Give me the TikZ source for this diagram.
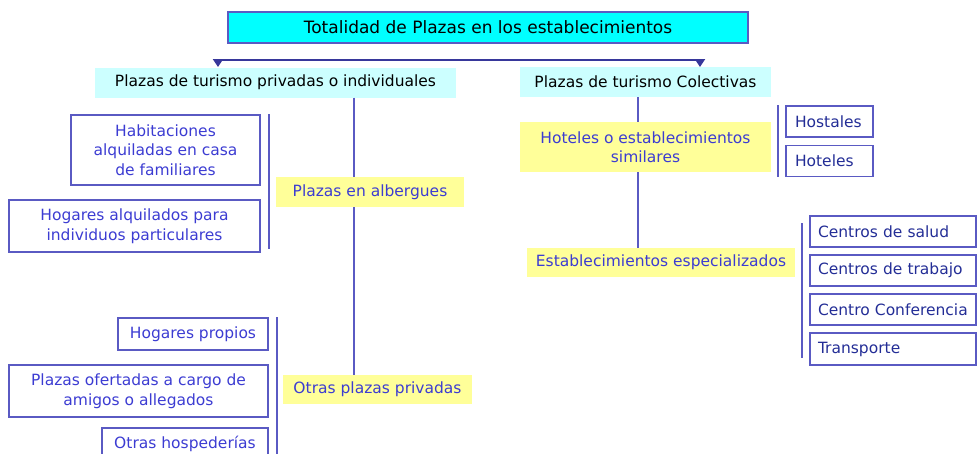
\documentclass[tikz,border=0pt]{standalone}
\usepackage{fontspec}
\setmainfont{DejaVu Sans}
\usetikzlibrary{arrows.meta}
\definecolor{lineblue}{RGB}{90,90,195}
\definecolor{darkline}{RGB}{55,55,155}
\definecolor{textblue}{RGB}{60,60,210}
\definecolor{textnavy}{RGB}{35,45,150}
\definecolor{topcyan}{RGB}{0,255,255}
\definecolor{palecyan}{RGB}{204,255,255}
\definecolor{paleyellow}{RGB}{255,255,153}
\begin{document}
\begin{tikzpicture}
  [x=1pt,y=-1pt,
   font=\fontsize{15.5}{19.5}\selectfont,
   every node/.style={inner sep=0pt,align=center},
   title/.style={draw=lineblue,fill=topcyan,line width=2pt,minimum width=520pt,minimum height=31pt,
     font=\fontsize{17}{20}\selectfont},
   head/.style={fill=palecyan,minimum height=30pt},
   group/.style={fill=paleyellow,text=textblue,minimum height=30pt},
   item/.style={draw=lineblue,line width=1.6pt,text=textblue},
   kind/.style={draw=lineblue,line width=1.6pt,text=textnavy,align=left,inner xsep=8pt,minimum height=31pt},
   link/.style={lineblue,line width=1.6pt}]
  \useasboundingbox (0,0) rectangle (978,453);
  \clip (0,0) rectangle (978,453);
  % top and the two kinds of places
  \node[title] (top) at (488,27.5) {Totalidad de Plazas en los establecimientos};
  \node[head,minimum width=361pt] (pp) at (275.5,82.5) {Plazas de turismo privadas o individuales};
  \node[head,minimum width=251pt] (pc) at (645.5,82) {Plazas de turismo Colectivas};
  \coordinate (fork) at (459,60);
  \coordinate (ltip) at (218,67);
  \coordinate (rtip) at (700,67);
  \draw[darkline,line width=2pt,-{Triangle[length=8pt,width=10pt]}] (fork) -| (ltip);
  \draw[darkline,line width=2pt,-{Triangle[length=8pt,width=10pt]}] (fork) -| (rtip);
  % private side
  \node[group,minimum width=188pt] (alb) at (370,192) {Plazas en albergues};
  \node[group,minimum width=189pt,minimum height=29pt] (otr) at (377.5,389.5) {Otras plazas privadas};
  \node[item,minimum width=189pt,minimum height=70pt] (hab) at (165.5,150) {Habitaciones\\alquiladas en casa\\de familiares};
  \node[item,minimum width=251pt,minimum height=52pt] (hog) at (134.5,226) {Hogares alquilados para\\individuos particulares};
  \node[item,minimum width=150pt,minimum height=32pt] (hp) at (193,334) {Hogares propios};
  \node[item,minimum width=259pt,minimum height=52pt] (amig) at (138.5,391) {Plazas ofertadas a cargo de\\amigos o allegados};
  \node[item,minimum width=166pt,minimum height=32pt] (hosp) at (185,444) {Otras hospederías};
  \coordinate (ltrunk) at (354,0);
  \draw[link] (ltrunk |- pp.south) -- (ltrunk |- alb.north);
  \draw[link] (ltrunk |- alb.south) -- (ltrunk |- otr.north);
  \draw[link] ([xshift=8pt]hab.north east) -- ([xshift=8pt,yshift=4pt]hog.south east);
  \draw[link] ([xshift=8pt]hp.north east) -- ([xshift=8pt]hosp.south east);
  % collective side
  \node[group,minimum width=251pt,minimum height=50pt] (hot) at (645.5,147) {Hoteles o establecimientos\\similares};
  \node[kind,text width=69pt,inner xsep=9pt] (hs) at (829.5,121.5) {Hostales};
  \node[kind,text width=69pt,inner xsep=9pt] (ht) at (829.5,161) {Hoteles};
  \node[group,minimum width=268pt,minimum height=29pt] (esp) at (661,262.5) {Establecimientos especializados};
  \node[kind,text width=150pt] (sal) at (893,231.5) {Centros de salud};
  \node[kind,text width=150pt] (trab) at (893,270.5) {Centros de trabajo};
  \node[kind,text width=150pt] (conf) at (893,309.5) {Centro Conferencia};
  \node[kind,text width=150pt,minimum height=32pt] (tran) at (893,349) {Transporte};
  \coordinate (rtrunk) at (638,0);
  \draw[link] (rtrunk |- pc.south) -- (rtrunk |- hot.north);
  \draw[link] (rtrunk |- hot.south) -- (rtrunk |- esp.north);
  \draw[link] ([xshift=-7pt]hs.north west) -- ([xshift=-7pt]ht.south west);
  \draw[link] ([xshift=-7pt,yshift=-8pt]sal.north west) -- ([xshift=-7pt,yshift=8pt]tran.south west);
\end{tikzpicture}
\end{document}
